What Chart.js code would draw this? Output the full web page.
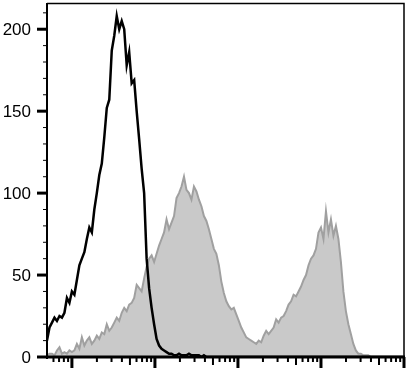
<!DOCTYPE html>
<html>
<head>
<meta charset="utf-8">
<script src="https://cdn.jsdelivr.net/npm/chart.js@4/dist/chart.umd.min.js"></script>
<style>
  html, body { margin: 0; padding: 0; background: #fff; }
  #wrap { width: 418px; height: 375px; }
</style>
</head>
<body>
<div id="wrap"><canvas id="c" width="418" height="375"></canvas></div>
<script>
// x: log10 fluorescence intensity bins (decades)
const logFluor = [
  0.70,0.73,0.76,0.79,0.82,0.85,0.88,0.91,0.94,0.97,
  1.00,1.03,1.06,1.09,1.12,1.15,1.18,1.21,1.24,1.27,
  1.30,1.33,1.36,1.39,1.42,1.45,1.48,1.51,1.54,1.57,
  1.60,1.63,1.66,1.69,1.72,1.75,1.78,1.81,1.84,1.87,
  1.90,1.93,1.96,1.99,2.02,2.05,2.08,2.11,2.14,2.17,
  2.20,2.23,2.26,2.29,2.32,2.35,2.38,2.41,2.44,2.47,
  2.50,2.53,2.56,2.59,2.62,2.65,2.68,2.71,2.74,2.77,
  2.80,2.83,2.86,2.89,2.92,2.95,2.98,3.01,3.04,3.07,
  3.10,3.13,3.16,3.19,3.22,3.25,3.28,3.31,3.34,3.37,
  3.40,3.43,3.46,3.49,3.52,3.55,3.58,3.61,3.64,3.67,
  3.70,3.73,3.76,3.79,3.82,3.85,3.88,3.91,3.94,3.97,
  4.00,4.03,4.06,4.09,4.12,4.15,4.18,4.21,4.24,4.27,
  4.30,4.33,4.36,4.39,4.42,4.45,4.48,4.51,4.54,4.57,
  4.60,4.63,4.66,4.69,4.72,4.75,4.78,4.81,4.84,4.87,
  4.90,4.93,4.96,4.99
];

// control (black line) counts
const controlCounts = [
  10,18,21,24,22,25,24,27,36,33,
  40,38,47,56,60,64,72,79,76,90,
  100,111,118,134,152,157,187,196,208,200,
  205,200,178,186,167,169,150,133,115,100,
  60,42,30,20,11,7,5,4,3,2,
  2,1,1,2,1,1,1,2,1,1,
  1,1,0,1,0,0,0,0,0,0,
  0,0,0,0,0,0,0,0,0,0,
  0,0,0,0,0,0,0,0,0,0,
  0,0,0,0,0,0,0,0,0,0,
  0,0,0,0,0,0,0,0,0,0,
  0,0,0,0,0,0,0,0,0,0,
  0,0,0,0,0,0,0,0,0,0,
  0,0,0,0,0,0,0,0,0,0,
  0,0,0,0
];

// stained sample (grey filled) counts
const stainedCounts = [
  1,2,2,1,4,6,2,3,2,4,
  3,4,8,5,12,7,10,12,8,10,
  13,11,15,14,20,16,18,21,24,22,
  27,30,28,32,33,36,44,42,40,48,
  55,60,62,58,63,68,72,76,84,78,
  82,86,97,100,104,110,102,100,96,104,
  101,96,92,86,83,78,72,66,63,56,
  46,39,34,31,29,30,26,22,18,15,
  12,11,10,9,8,10,9,13,16,14,
  16,18,23,21,24,25,28,32,34,38,
  37,40,43,47,50,56,60,62,66,76,
  79,72,89,76,84,74,80,72,58,40,
  28,20,14,8,4,2,2,1,1,1,
  0,0,0,0,0,0,0,0,0,0,
  0,0,0,0
];

const yTickValues = [0, 50, 100, 150, 200];
const yTickLabels = ['0', '50', '100', '150', '200'];
const xDecades = [0, 1, 2, 3, 4];

const toPts = (ys) => logFluor.map((x, i) => ({x: x, y: ys[i]}));

const axisDecor = {
  id: 'axisDecor',
  afterDatasetsDraw(chart) {
    const {ctx, chartArea: a, scales} = chart;
    const xs = scales.x, ys = scales.y;
    ctx.save();
    ctx.strokeStyle = '#000';
    ctx.lineCap = 'butt';
    // top & right frame
    ctx.lineWidth = 1.5;
    ctx.beginPath();
    ctx.moveTo(a.left, a.top + 0.5);
    ctx.lineTo(a.right, a.top + 0.5);
    ctx.lineTo(a.right, a.bottom);
    ctx.stroke();
    // left axis line
    ctx.lineWidth = 2;
    ctx.beginPath();
    ctx.moveTo(a.left, a.top);
    ctx.lineTo(a.left, a.bottom + 2);
    ctx.stroke();
    // bottom axis line
    ctx.lineWidth = 3;
    ctx.beginPath();
    ctx.moveTo(a.left - 1, a.bottom);
    ctx.lineTo(a.right + 1, a.bottom);
    ctx.stroke();
    // y ticks
    for (let v = 0; v <= ys.max; v += 10) {
      const py = ys.getPixelForValue(v);
      const major = yTickValues.includes(v);
      ctx.lineWidth = major ? 3 : 1;
      ctx.beginPath();
      ctx.moveTo(a.left - (major ? 10 : 4), py);
      ctx.lineTo(a.left, py);
      ctx.stroke();
    }
    // y tick labels
    ctx.fillStyle = '#000';
    ctx.font = '17px Arial, "Liberation Sans", sans-serif';
    ctx.textAlign = 'right';
    ctx.textBaseline = 'middle';
    yTickValues.forEach((v, i) => {
      ctx.fillText(yTickLabels[i], a.left - 16, ys.getPixelForValue(v) + 1);
    });
    // x ticks (log decades)
    for (const n of xDecades) {
      for (let k = 1; k <= 10; k++) {
        const d = n + Math.log10(k);
        if (d < xs.min - 1e-6 || d > xs.max + 1e-6) continue;
        if (k === 10 && n !== xDecades[xDecades.length - 1]) continue;
        const px = xs.getPixelForValue(d);
        let len = 5, w = 2;
        if (k === 1 || k === 10) { len = 11; w = 3; }
        else if (k === 5) { len = 8; w = 2; }
        ctx.lineWidth = w;
        ctx.beginPath();
        ctx.moveTo(px, a.bottom);
        ctx.lineTo(px, a.bottom + len);
        ctx.stroke();
      }
    }
    ctx.restore();
  }
};

new Chart(document.getElementById('c'), {
  type: 'line',
  data: {
    datasets: [
      {
        label: 'Control',
        data: toPts(controlCounts),
        borderColor: '#000000',
        borderWidth: 2.5,
        fill: false,
        pointRadius: 0,
        tension: 0,
        order: 0
      },
      {
        label: 'Stained',
        data: toPts(stainedCounts),
        borderColor: '#a0a0a0',
        backgroundColor: '#c9c9c9',
        borderWidth: 2,
        fill: 'origin',
        pointRadius: 0,
        tension: 0,
        order: 1
      }
    ]
  },
  options: {
    responsive: false,
    animation: false,
    devicePixelRatio: 1,
    layout: { padding: { top: 3, right: 14, left: 0, bottom: 0 } },
    plugins: { legend: { display: false }, tooltip: { enabled: false } },
    scales: {
      x: {
        type: 'linear',
        min: 0.70,
        max: 5.0,
        grid: { display: false, drawTicks: false },
        border: { display: false },
        ticks: { display: false },
        afterFit(scale) { scale.height = 18; }
      },
      y: {
        type: 'linear',
        min: 0,
        max: 216,
        grid: { display: false, drawTicks: false },
        border: { display: false },
        ticks: { display: false },
        afterFit(scale) { scale.width = 47; }
      }
    }
  },
  plugins: [axisDecor]
});
</script>
</body>
</html>
